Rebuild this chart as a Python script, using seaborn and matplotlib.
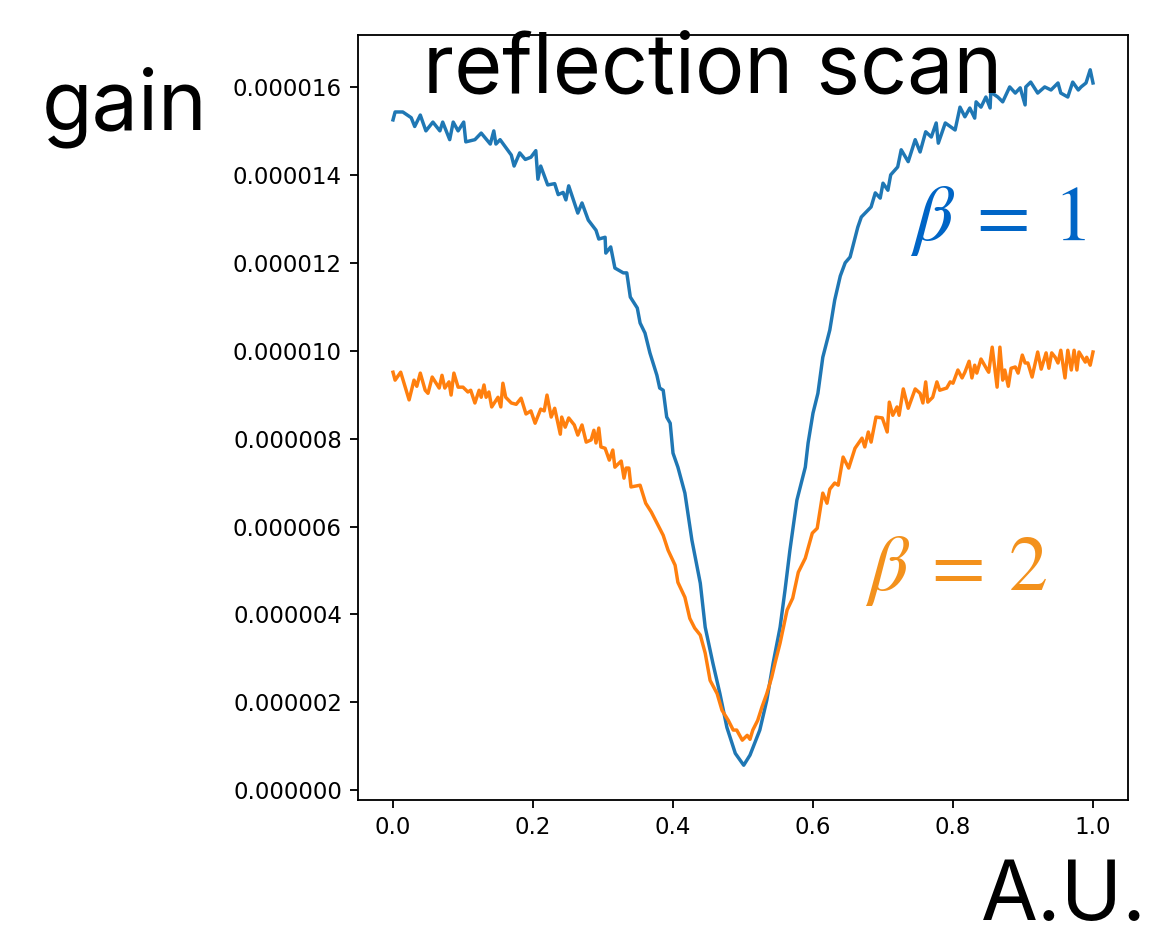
import numpy as np
import pandas as pd
import matplotlib
matplotlib.use("Agg")
import matplotlib.pyplot as plt
from matplotlib.ticker import FormatStrFormatter, MultipleLocator
import seaborn as sns

# ---- data (gain in units of 1e-6) ----
x_beta1 = [0.000, 0.003, 0.014, 0.026, 0.031, 0.039, 0.047, 0.057, 0.067, 0.071,
           0.081, 0.086, 0.093, 0.101, 0.104, 0.117, 0.126, 0.139, 0.144, 0.147,
           0.153, 0.169, 0.173, 0.181, 0.189, 0.197, 0.204, 0.207, 0.211, 0.221,
           0.231, 0.236, 0.243, 0.247, 0.251, 0.264, 0.270, 0.279, 0.290, 0.294,
           0.303, 0.304, 0.311, 0.317, 0.329, 0.334, 0.339, 0.349, 0.353, 0.360,
           0.367, 0.377, 0.381, 0.386, 0.391, 0.396, 0.400, 0.407, 0.417, 0.427,
           0.439, 0.446, 0.457, 0.467, 0.477, 0.489, 0.501, 0.510, 0.524, 0.534,
           0.543, 0.553, 0.560, 0.567, 0.577, 0.589, 0.593, 0.600, 0.607, 0.614,
           0.624, 0.631, 0.639, 0.646, 0.653, 0.660, 0.664, 0.669, 0.683, 0.689,
           0.696, 0.700, 0.707, 0.711, 0.721, 0.726, 0.736, 0.746, 0.753, 0.761,
           0.769, 0.776, 0.779, 0.789, 0.803, 0.810, 0.817, 0.824, 0.831, 0.833,
           0.840, 0.847, 0.853, 0.854, 0.864, 0.871, 0.881, 0.889, 0.896, 0.903,
           0.904, 0.911, 0.921, 0.931, 0.940, 0.950, 0.954, 0.964, 0.971, 0.979,
           0.983, 0.990, 0.996, 1.000]
gain_beta1 = [15.25, 15.43, 15.43, 15.30, 15.10, 15.36, 15.00, 15.20, 15.00, 15.20,
              14.80, 15.20, 15.00, 15.20, 14.75, 14.80, 14.95, 14.70, 15.00, 14.70,
              14.80, 14.45, 14.20, 14.50, 14.35, 14.40, 14.55, 13.90, 14.20, 13.77,
              13.80, 13.55, 13.60, 13.43, 13.75, 13.13, 13.36, 12.97, 12.74, 12.54,
              12.58, 12.22, 12.36, 11.88, 11.77, 11.77, 11.22, 10.97, 10.63, 10.40,
              9.95, 9.44, 9.15, 9.10, 8.49, 8.35, 7.67, 7.35, 6.76, 5.69,
              4.71, 3.71, 2.89, 2.20, 1.43, 0.84, 0.57, 0.80, 1.37, 2.05,
              2.89, 3.71, 4.55, 5.46, 6.60, 7.35, 7.90, 8.58, 9.03, 9.85,
              10.47, 11.15, 11.70, 12.00, 12.13, 12.56, 12.81, 13.04, 13.27, 13.59,
              13.47, 13.81, 13.65, 14.00, 14.18, 14.57, 14.30, 14.80, 14.52, 14.98,
              14.86, 15.18, 14.72, 15.18, 15.02, 15.54, 15.32, 15.52, 15.29, 15.66,
              15.54, 15.77, 15.52, 15.88, 15.77, 15.66, 16.00, 15.86, 15.98, 15.59,
              16.00, 16.11, 15.86, 16.00, 15.93, 16.09, 15.86, 15.77, 16.11, 15.93,
              16.00, 16.09, 16.39, 16.09]

x_beta2 = [0.000, 0.003, 0.011, 0.023, 0.030, 0.034, 0.039, 0.046, 0.050, 0.056,
           0.066, 0.070, 0.074, 0.080, 0.083, 0.087, 0.093, 0.100, 0.107, 0.111,
           0.117, 0.123, 0.126, 0.130, 0.133, 0.137, 0.141, 0.150, 0.154, 0.157,
           0.161, 0.169, 0.176, 0.183, 0.190, 0.197, 0.203, 0.211, 0.216, 0.220,
           0.226, 0.231, 0.239, 0.241, 0.246, 0.251, 0.259, 0.264, 0.270, 0.276,
           0.283, 0.287, 0.290, 0.294, 0.297, 0.303, 0.309, 0.314, 0.317, 0.326,
           0.330, 0.333, 0.337, 0.340, 0.353, 0.361, 0.369, 0.377, 0.386, 0.393,
           0.403, 0.407, 0.417, 0.424, 0.431, 0.439, 0.446, 0.453, 0.463, 0.470,
           0.479, 0.486, 0.491, 0.499, 0.506, 0.510, 0.514, 0.521, 0.527, 0.534,
           0.541, 0.546, 0.553, 0.563, 0.571, 0.579, 0.589, 0.599, 0.606, 0.613,
           0.614, 0.620, 0.624, 0.631, 0.636, 0.643, 0.651, 0.660, 0.670, 0.674,
           0.679, 0.683, 0.690, 0.699, 0.706, 0.709, 0.714, 0.720, 0.723, 0.729,
           0.736, 0.746, 0.753, 0.757, 0.761, 0.764, 0.771, 0.777, 0.781, 0.791,
           0.796, 0.800, 0.807, 0.813, 0.817, 0.823, 0.827, 0.831, 0.834, 0.840,
           0.849, 0.851, 0.856, 0.863, 0.867, 0.871, 0.874, 0.879, 0.883, 0.889,
           0.893, 0.899, 0.903, 0.907, 0.913, 0.921, 0.926, 0.933, 0.937, 0.941,
           0.946, 0.950, 0.954, 0.960, 0.964, 0.969, 0.973, 0.977, 0.980, 0.989,
           0.991, 0.996, 1.000]
gain_beta2 = [9.51, 9.33, 9.51, 8.88, 9.33, 9.19, 9.49, 9.10, 9.03, 9.40,
              9.15, 9.44, 9.15, 9.29, 8.99, 9.49, 9.17, 9.17, 9.06, 9.10,
              8.81, 9.10, 8.94, 9.22, 8.94, 9.06, 8.72, 8.94, 8.72, 9.26,
              8.94, 8.81, 8.78, 8.92, 8.56, 8.63, 8.35, 8.67, 8.63, 8.99,
              8.49, 8.69, 8.10, 8.49, 8.26, 8.47, 8.31, 8.08, 8.31, 7.92,
              7.97, 8.19, 7.90, 8.24, 7.81, 7.78, 7.51, 7.74, 7.35, 7.49,
              7.10, 7.33, 7.33, 6.90, 6.94, 6.53, 6.33, 6.08, 5.80, 5.46,
              5.12, 4.73, 4.39, 3.91, 3.69, 3.53, 3.12, 2.50, 2.20, 1.82,
              1.59, 1.37, 1.37, 1.14, 1.25, 1.16, 1.37, 1.59, 1.89, 2.20,
              2.57, 2.91, 3.35, 4.10, 4.37, 4.96, 5.28, 5.85, 5.96, 6.67,
              6.76, 6.53, 6.85, 6.99, 6.94, 7.58, 7.33, 7.78, 8.01, 7.81,
              8.15, 7.92, 8.49, 8.47, 8.15, 8.83, 8.53, 8.72, 8.53, 9.13,
              8.69, 9.13, 9.03, 8.81, 9.29, 8.83, 8.94, 9.29, 9.10, 9.15,
              9.29, 9.26, 9.56, 9.38, 9.51, 9.76, 9.38, 9.67, 9.49, 9.81,
              9.56, 9.51, 10.08, 9.17, 10.08, 9.33, 9.56, 9.19, 9.60, 9.63,
              9.49, 9.90, 9.72, 9.72, 9.40, 9.97, 9.58, 9.95, 9.60, 9.95,
              9.85, 9.72, 10.01, 9.38, 10.01, 9.56, 10.01, 9.56, 9.97, 9.74,
              9.85, 9.67, 9.97]

series_names = ["beta1", "beta2"]
title_text = "reflection scan"
ylabel_text = "gain"
xlabel_text = "A.U."
annot_texts = [r"$\beta\:=\:1$", r"$\beta\:=\:2$"]

# ---- build table ----
df = pd.concat([
    pd.DataFrame({"x": x_beta1, "gain": np.array(gain_beta1) * 1e-6, "series": series_names[0]}),
    pd.DataFrame({"x": x_beta2, "gain": np.array(gain_beta2) * 1e-6, "series": series_names[1]}),
], ignore_index=True)

plt.rcParams["mathtext.fontset"] = "stix"
dpi = 165
fig = plt.figure(figsize=(1151 / dpi, 937 / dpi), dpi=dpi)
ax = fig.add_axes([358 / 1151, 137 / 937, 770 / 1151, 765 / 937])

sns.lineplot(data=df, x="x", y="gain", hue="series",
             palette=["#1f77b4", "#ff7f0e"], estimator=None, sort=False,
             linewidth=1.5, legend=False, ax=ax)

ax.yaxis.set_major_locator(MultipleLocator(2e-6))
ax.yaxis.set_major_formatter(FormatStrFormatter("%.6f"))
ax.xaxis.set_major_locator(MultipleLocator(0.2))
ax.xaxis.set_major_formatter(FormatStrFormatter("%.1f"))
ax.tick_params(labelsize=10)

big = ["Inter", "DejaVu Sans"]
ax.text(0.46, 0.924, title_text, transform=ax.transAxes, ha="center",
        va="baseline", fontsize=36, family=big)
ax.set_ylabel(ylabel_text, rotation=0, fontsize=36, family=big,
              ha="center", va="baseline")
ax.yaxis.set_label_coords(-0.303, 0.876)
ax.set_xlabel(xlabel_text, fontsize=36, family=big, ha="center", va="baseline")
ax.xaxis.set_label_coords(0.917, -0.157)

ax.text(0.739, 12.52e-6, annot_texts[0], color="#0065c6", fontsize=34,
        ha="left", va="baseline")
ax.text(0.674, 4.55e-6, annot_texts[1], color="#f3911c", fontsize=34,
        ha="left", va="baseline")

fig.savefig("out.png", dpi=dpi)
